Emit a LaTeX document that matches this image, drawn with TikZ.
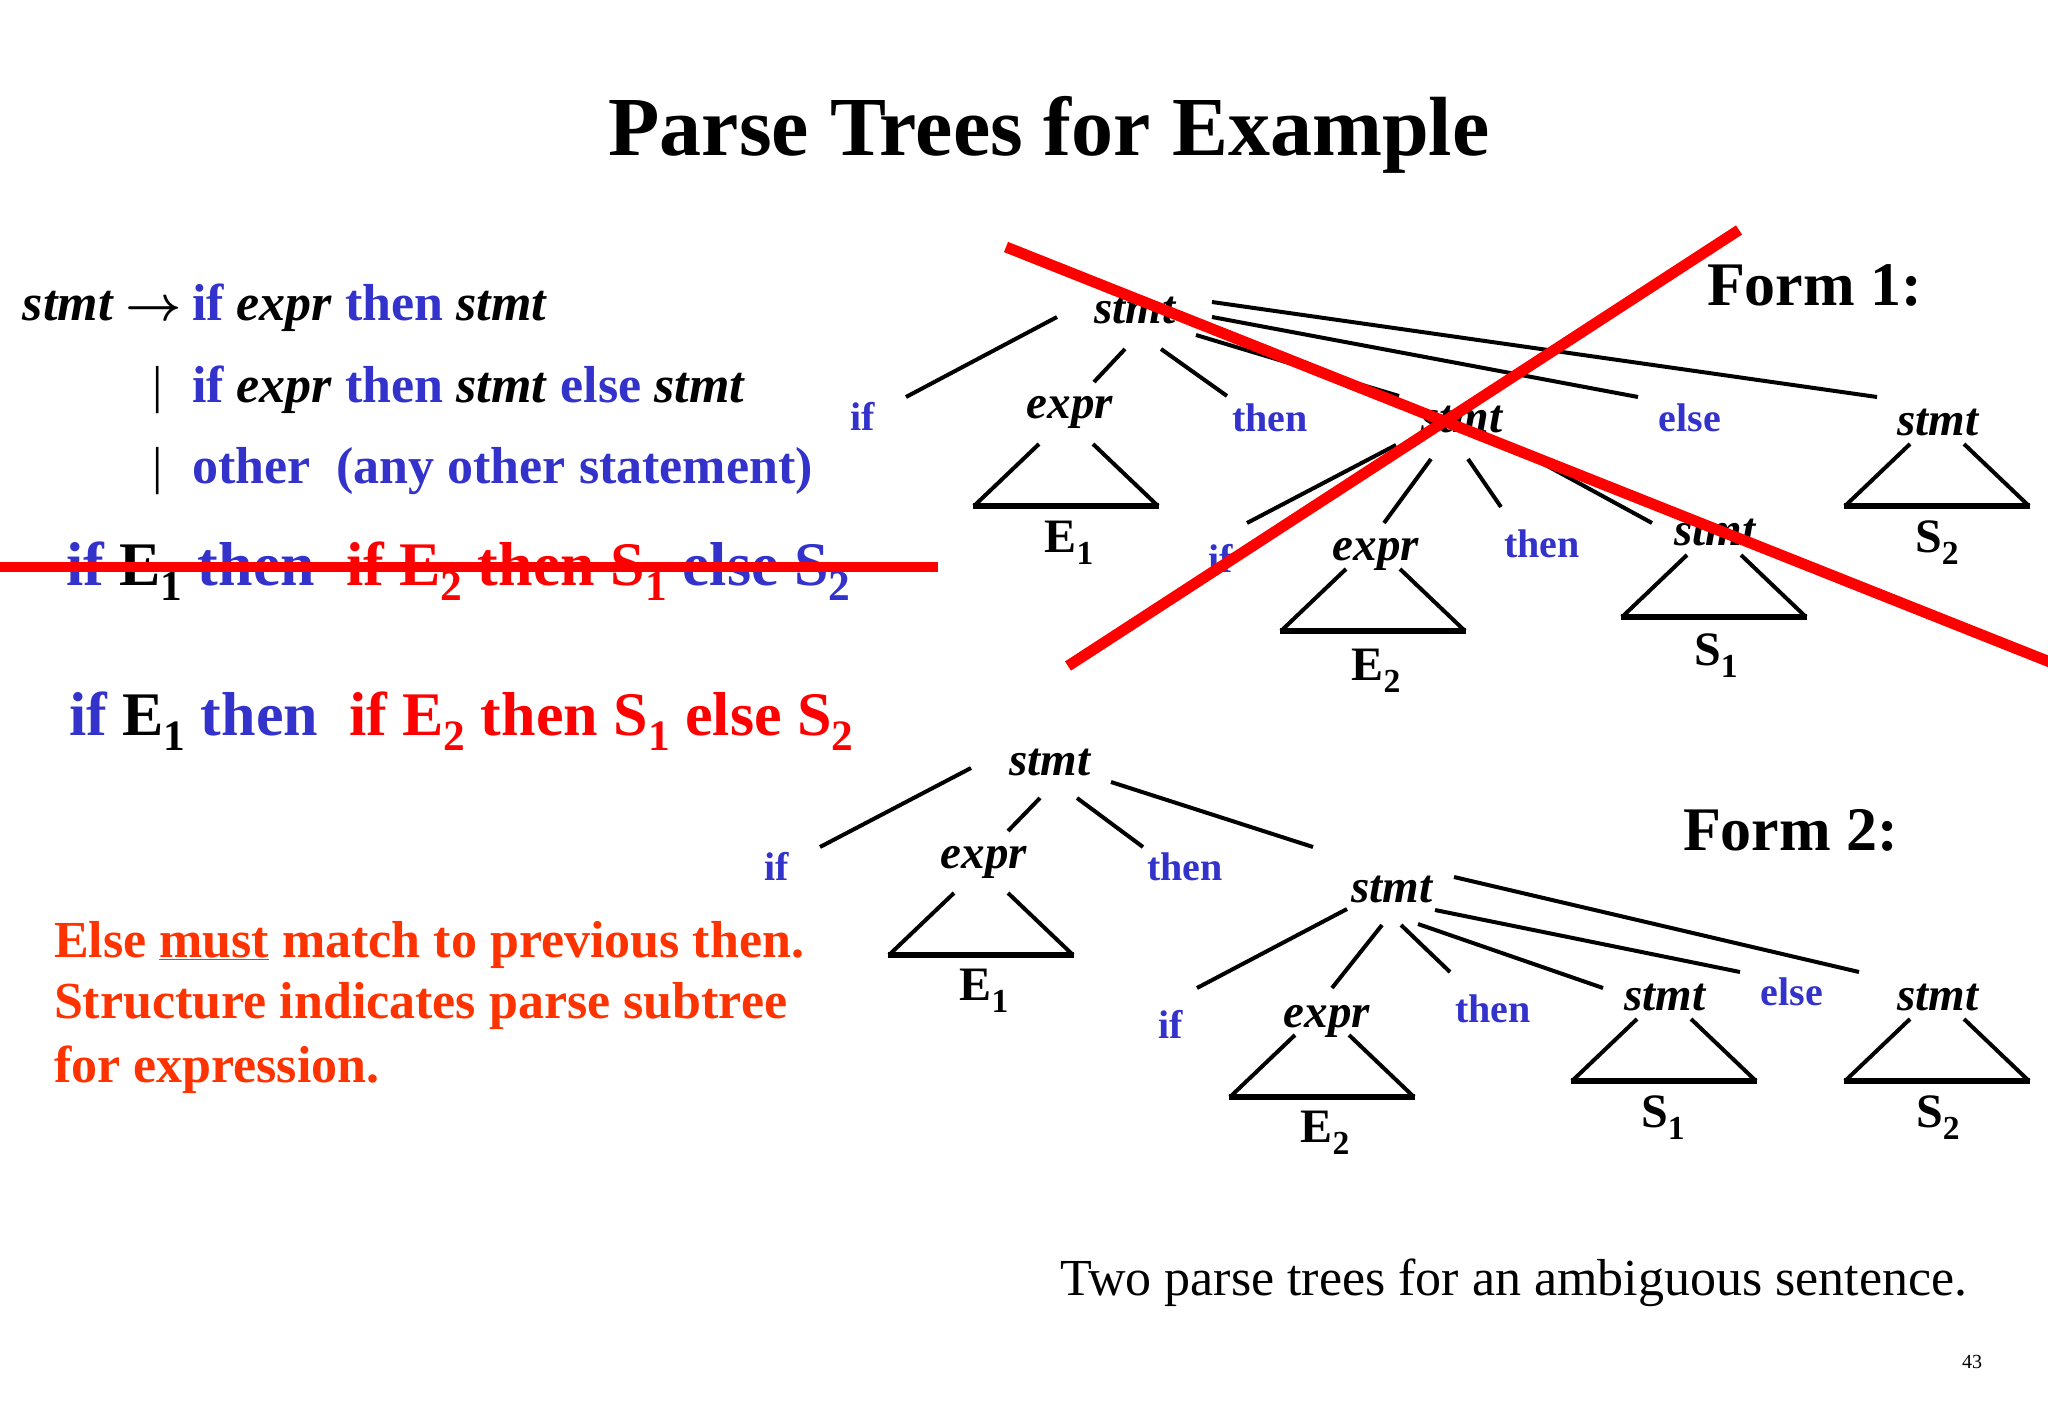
\documentclass[tikz,border=0pt]{standalone}
\usepackage{fontspec}
\setmainfont{Liberation Serif}
\usepackage{graphicx}
\definecolor{myblue}{RGB}{51,51,204}
\definecolor{myred}{RGB}{255,0,0}
\definecolor{myorange}{RGB}{255,51,0}
\newcommand\fs[1]{\fontsize{#1}{#1}\selectfont}
\newcommand\Sb[1]{\raisebox{-0.25em}{\scalebox{0.7}{#1}}}
\newcommand\tri[2]{%
  \draw[edge] (#1-27,#2) -- (#1-92,#2+62);
  \draw[edge] (#1+27,#2) -- (#1+92,#2+62);
  \draw[tribase] (#1-93,#2+62) -- (#1+93,#2+62);}
\tikzset{
  txt/.style={inner sep=0pt, outer sep=0pt},
  nt/.style={txt, anchor=base, font={\fs{47}\bfseries\itshape}},
  kw/.style={txt, anchor=base, text=myblue, font={\fs{40}\bfseries}},
  leaf/.style={txt, anchor=base, font={\fs{48}\bfseries}},
  edge/.style={line width=4pt},
  tribase/.style={line width=6pt},
  cross/.style={line width=11pt, draw=myred},
  prod/.style={txt, anchor=base west, font={\fs{52}\bfseries}},
}
\begin{document}
\begin{tikzpicture}[x=1pt, y=-1pt]
\useasboundingbox (0,0) rectangle (2048,1418);
\fill[white] (0,0) rectangle (2048,1418);

% title
\node[txt, anchor=base, font={\fs{84}\bfseries}] (title) at (1049,156) {Parse Trees for Example};

% grammar
\node[prod, font={\fs{52}\bfseries\itshape}] (p1a) at (23,320) {stmt};
\node[txt, anchor=base west, font={\fontsize{10}{12}\selectfont}] (p1arr) at (125,320) {\scalebox{4.9}{\boldmath$\rightarrow$}};
\node[prod, text=myblue] (p1b) at (192,320) {if \textcolor{black}{\textit{expr}} then \textcolor{black}{\textit{stmt}}};
\node[txt, anchor=base, font={\fs{52}}] (bar1) at (158,402) {|};
\node[prod, text=myblue] (p2) at (192,402) {if \textcolor{black}{\textit{expr}} then \textcolor{black}{\textit{stmt}} else \textcolor{black}{\textit{stmt}}};
\node[txt, anchor=base, font={\fs{52}}] (bar2) at (158,483) {|};
\node[prod, text=myblue] (p3) at (192,483) {other\ \ (any other statement)};

% sentences
\node[prod, font={\fs{62}\bfseries}] (amb1) at (66,585) {\textcolor{myblue}{if} E\Sb{1} \textcolor{myblue}{then}\ \ \textcolor{myred}{if E\Sb{2} then S\Sb{1}} \textcolor{myblue}{else S\Sb{2}}};
\draw[line width=10pt, myred] (0,567) -- (938,567);
\node[prod, font={\fs{62}\bfseries}] (amb2) at (69,735) {\textcolor{myblue}{if} E\Sb{1} \textcolor{myblue}{then}\ \ \textcolor{myred}{if E\Sb{2} then S\Sb{1} else S\Sb{2}}};

% remark
\node[prod, text=myorange] (r1) at (54,957) {Else \underline{must} match to previous then.};
\node[prod, text=myorange] (r2) at (54,1018) {Structure indicates parse subtree};
\node[prod, text=myorange] (r3) at (54,1082) {for expression.};

% form labels
\node[txt, anchor=base west, font={\fs{62}\bfseries}] (f1) at (1707,305) {Form 1:};
\node[txt, anchor=base west, font={\fs{62}\bfseries}] (f2) at (1683,850) {Form 2:};

% ---------- Tree 1 ----------
\node[nt] (r1n) at (1135,323) {stmt};
\node[kw] (if1) at (863,430) {if};
\node[nt] (ex1) at (1070,418) {expr};
\node[kw] (th1) at (1270,431) {then};
\node[nt] (s1b) at (1462,432) {stmt};
\node[kw] (el1) at (1690,431) {else};
\node[nt] (s1c) at (1938,435) {stmt};
\node[kw] (if1b) at (1221,572) {if};
\node[nt] (ex1b) at (1376,560) {expr};
\node[kw] (th1b) at (1542,557) {then};
\node[nt] (s1d) at (1715,545) {stmt};
\node[leaf] (E1a) at (1069,552) {E\Sb{1}};
\node[leaf] (S2a) at (1937,552) {S\Sb{2}};
\node[leaf] (E2a) at (1376,680) {E\Sb{2}};
\node[leaf] (S1a) at (1716,665) {S\Sb{1}};

\draw[edge] ([shift={(-78,-6)}]r1n.base) -- ([shift={(43,-33)}]if1.base);
\draw[edge] ([shift={(-10,26)}]r1n.base) -- ([shift={(24,-36)}]ex1.base);
\draw[edge] ([shift={(26,26)}]r1n.base) -- ([shift={(-43,-35)}]th1.base);
\draw[edge] ([shift={(61,12)}]r1n.base) -- ([shift={(-63,-36)}]s1b.base);
\draw[edge] ([shift={(77,-6)}]r1n.base) -- ([shift={(-52,-34)}]el1.base);
\draw[edge] ([shift={(77,-21)}]r1n.base) -- ([shift={(-61,-38)}]s1c.base);
\draw[edge] ([shift={(-66,13)}]s1b.base) -- ([shift={(26,-49)}]if1b.base);
\draw[edge] ([shift={(-31,27)}]s1b.base) -- ([shift={(8,-37)}]ex1b.base);
\draw[edge] ([shift={(6,27)}]s1b.base) -- ([shift={(-41,-50)}]th1b.base);
\draw[edge] ([shift={(78,30)}]s1b.base) -- ([shift={(-63,-22)}]s1d.base);
\tri{1066}{444}
\tri{1937}{444}
\tri{1373}{569}
\tri{1714}{555}

% ---------- Tree 2 ----------
\node[nt] (r2n) at (1050,775) {stmt};
\node[kw] (if2) at (777,880) {if};
\node[nt] (ex2) at (984,868) {expr};
\node[kw] (th2) at (1185,880) {then};
\node[nt] (s2b) at (1392,902) {stmt};
\node[kw] (if2b) at (1171,1038) {if};
\node[nt] (ex2b) at (1327,1027) {expr};
\node[kw] (th2b) at (1493,1022) {then};
\node[nt] (s2c) at (1665,1010) {stmt};
\node[kw] (el2) at (1792,1005) {else};
\node[nt] (s2d) at (1938,1010) {stmt};
\node[leaf] (E1b) at (984,1000) {E\Sb{1}};
\node[leaf] (E2b) at (1325,1142) {E\Sb{2}};
\node[leaf] (S1b) at (1663,1127) {S\Sb{1}};
\node[leaf] (S2b) at (1938,1127) {S\Sb{2}};

\draw[edge] ([shift={(-79,-7)}]r2n.base) -- ([shift={(43,-33)}]if2.base);
\draw[edge] ([shift={(-10,23)}]r2n.base) -- ([shift={(24,-37)}]ex2.base);
\draw[edge] ([shift={(27,23)}]r2n.base) -- ([shift={(-42,-33)}]th2.base);
\draw[edge] ([shift={(61,7)}]r2n.base) -- ([shift={(-79,-55)}]s2b.base);
\draw[edge] ([shift={(-45,7)}]s2b.base) -- ([shift={(26,-50)}]if2b.base);
\draw[edge] ([shift={(-10,23)}]s2b.base) -- ([shift={(5,-39)}]ex2b.base);
\draw[edge] ([shift={(9,23)}]s2b.base) -- ([shift={(-43,-50)}]th2b.base);
\draw[edge] ([shift={(26,22)}]s2b.base) -- ([shift={(-62,-22)}]s2c.base);
\draw[edge] ([shift={(43,8)}]s2b.base) -- ([shift={(-52,-33)}]el2.base);
\draw[edge] ([shift={(62,-25)}]s2b.base) -- ([shift={(-79,-38)}]s2d.base);
\tri{981}{893}
\tri{1322}{1035}
\tri{1664}{1019}
\tri{1937}{1019}

% red cross over Form 1
\draw[cross] (1006,247) -- (2070,670);
\draw[cross] (1068,666) -- (1739,230);

% caption
\node[txt, anchor=base west, font={\fs{52}}] (cap) at (1060,1295) {Two parse trees for an ambiguous sentence.};
\node[txt, anchor=base, font={\fs{20}}] (pg) at (1972,1368) {43};
\end{tikzpicture}
\end{document}
